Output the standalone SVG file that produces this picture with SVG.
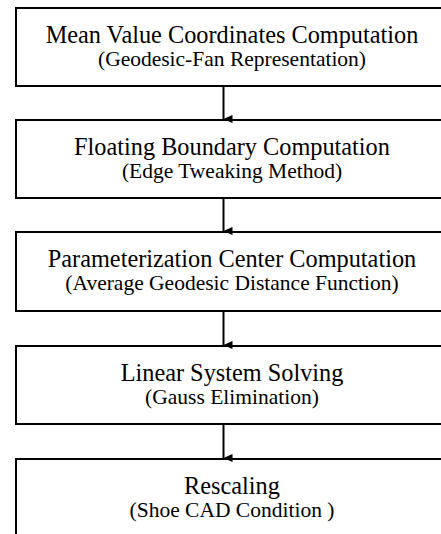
<svg xmlns="http://www.w3.org/2000/svg" width="441" height="534" viewBox="0 0 441 534">
<defs>
<style>
.box{fill:#fff;stroke:#000;stroke-width:2}
.t{font-family:"Liberation Serif","Times New Roman",serif;font-size:24.3px;text-anchor:middle;fill:#000}
.s{font-family:"Liberation Serif","Times New Roman",serif;font-size:21.5px;text-anchor:middle;fill:#000}
.c{stroke:#000;stroke-width:2;fill:none}
</style>
<marker id="ah" markerWidth="8" markerHeight="9" refX="4" refY="9" orient="auto" markerUnits="userSpaceOnUse" viewBox="0 0 8 9">
<path d="M0,0 L8,0 L4,9 Z" fill="#000"/>
</marker>
</defs>
<rect width="441" height="534" fill="#fff"/>
<g id="n1"><rect class="box" x="16" y="8" width="440" height="78"/><text class="t" x="232" y="42.5">Mean Value Coordinates Computation</text><text class="s" x="232" y="66">(Geodesic-Fan Representation)</text></g>
<g id="n2"><rect class="box" x="16" y="120" width="440" height="78"/><text class="t" x="232" y="154.5">Floating Boundary Computation</text><text class="s" x="232" y="178">(Edge Tweaking Method)</text></g>
<g id="n3"><rect class="box" x="16" y="232" width="440" height="79"/><text class="t" x="232" y="266.5">Parameterization Center Computation</text><text class="s" x="232" y="290">(Average Geodesic Distance Function)</text></g>
<g id="n4"><rect class="box" x="16" y="346" width="440" height="78"/><text class="t" x="232" y="380.5">Linear System Solving</text><text class="s" x="232" y="404">(Gauss Elimination)</text></g>
<g id="n5"><rect class="box" x="16" y="459" width="440" height="90"/><text class="t" x="232" y="493.5">Rescaling</text><text class="s" x="232" y="517">(Shoe CAD Condition )</text></g>
<g id="connectors">
<line class="c" x1="223.5" y1="86" x2="223.5" y2="119" marker-end="url(#ah)"/>
<line class="c" x1="223.5" y1="198" x2="223.5" y2="231" marker-end="url(#ah)"/>
<line class="c" x1="223.5" y1="311" x2="223.5" y2="345" marker-end="url(#ah)"/>
<line class="c" x1="223.5" y1="424" x2="223.5" y2="458" marker-end="url(#ah)"/>
</g>
</svg>
